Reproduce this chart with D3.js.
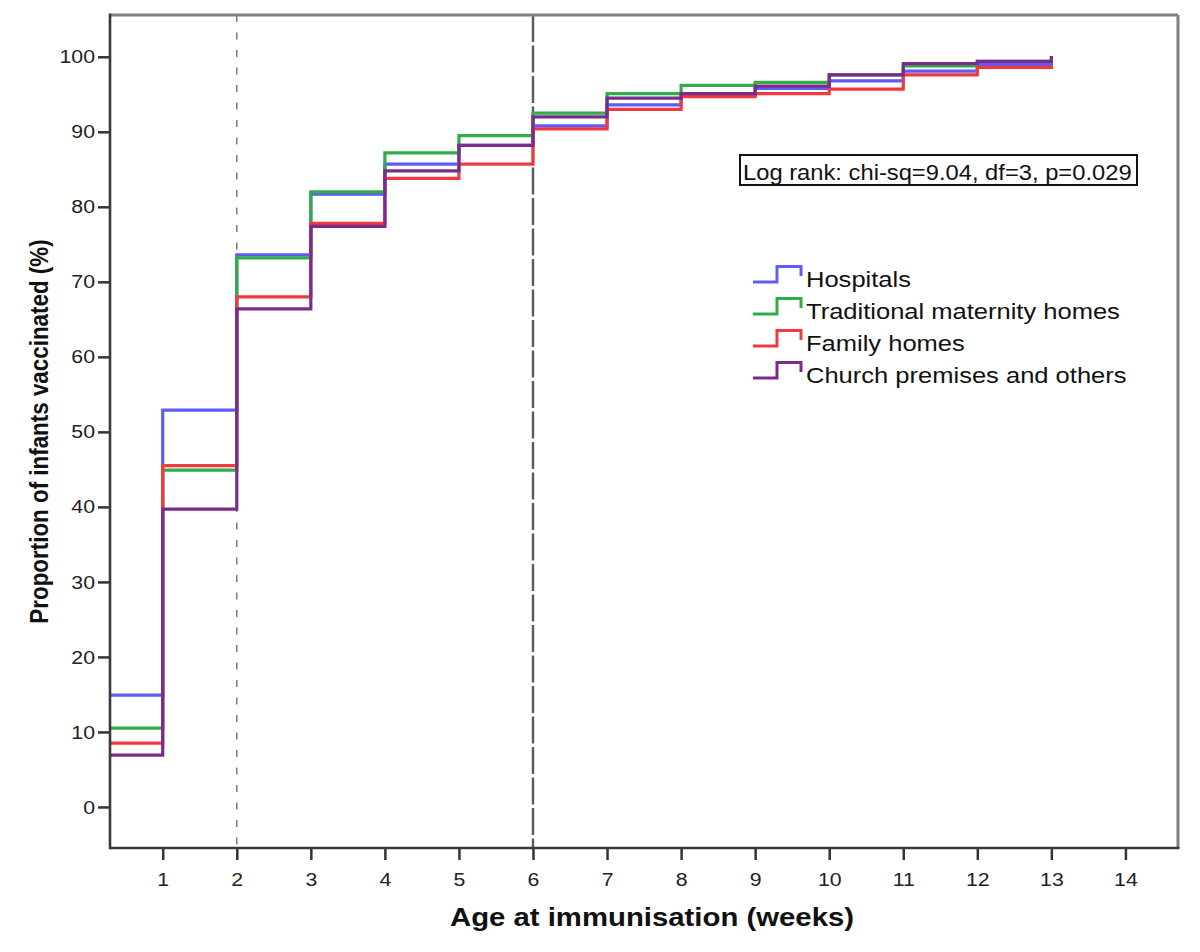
<!DOCTYPE html>
<html>
<head>
<meta charset="utf-8">
<script src="https://cdn.jsdelivr.net/npm/d3@7"></script>
<style>
  html, body { margin: 0; padding: 0; background: #ffffff; }
  svg { display: block; font-family: "Liberation Sans", Arial, sans-serif; }
</style>
</head>
<body>
<svg id="chart" width="1200" height="952"></svg>
<script>
// ---- data ----
const weeks = [0, 1, 2, 3, 4, 5, 6, 7, 8, 9, 10, 11, 12, 13];
const hospitals   = [14.9, 52.9, 73.6, 81.7, 85.7, 88.2, 90.8, 93.6, 94.9, 95.8, 96.8, 98.1, 99.0, 99.0];
const traditional = [10.5, 44.9, 73.2, 82.0, 87.2, 89.5, 92.5, 95.1, 96.2, 96.6, 97.6, 98.8, 99.4, 99.4];
const family      = [8.5, 45.5, 68.0, 77.8, 83.8, 85.7, 90.4, 93.0, 94.7, 95.1, 95.7, 97.6, 98.6, 98.6];
const church      = [6.9, 39.7, 66.4, 77.4, 84.8, 88.2, 92.0, 94.5, 95.1, 96.1, 97.6, 99.1, 99.4, 99.9];
const seriesNames = ["Hospitals", "Traditional maternity homes", "Family homes", "Church premises and others"];
const seriesColors = ["#5c5cf6", "#30ad48", "#f03a40", "#7a2c8c"];
const xTicks = [1, 2, 3, 4, 5, 6, 7, 8, 9, 10, 11, 12, 13, 14];
const yTicks = [0, 10, 20, 30, 40, 50, 60, 70, 80, 90, 100];
const refLines = [2, 6];
const annotation = "Log rank: chi-sq=9.04, df=3, p=0.029";
const xTitle = "Age at immunisation (weeks)";
const yTitle = "Proportion of infants vaccinated (%)";

const allSeries = [hospitals, traditional, family, church];

// ---- layout ----
const svg = d3.select("#chart");
const plot = { left: 110, right: 1178, top: 15, bottom: 848 };
const SX = 1.12; // horizontal stretch of text in reference

const x = d3.scaleLinear().domain([0.288, 14.71]).range([plot.left, plot.right]);
const y = d3.scaleLinear().domain([-5.47, 105.57]).range([plot.bottom, plot.top]);

svg.append("defs").append("clipPath").attr("id", "clip")
  .append("rect")
  .attr("x", plot.left).attr("y", plot.top)
  .attr("width", plot.right - plot.left).attr("height", plot.bottom - plot.top);

// reference lines
svg.append("line")
  .attr("x1", x(refLines[0])).attr("x2", x(refLines[0]))
  .attr("y1", plot.top).attr("y2", plot.bottom)
  .attr("stroke", "#808080").attr("stroke-width", 1.6)
  .attr("stroke-dasharray", "7,10.5");
svg.append("line")
  .attr("x1", x(refLines[1])).attr("x2", x(refLines[1]))
  .attr("y1", plot.top).attr("y2", plot.bottom)
  .attr("stroke", "#5a5a5a").attr("stroke-width", 2.4)
  .attr("stroke-dasharray", "27,3.5");

// curves
const line = d3.line()
  .x((d, i) => x(weeks[i]))
  .y(d => y(d))
  .curve(d3.curveStepAfter);

const curves = svg.append("g").attr("clip-path", "url(#clip)");
allSeries.forEach((s, k) => {
  curves.append("path")
    .attr("d", line(s))
    .attr("fill", "none")
    .attr("stroke", seriesColors[k])
    .attr("stroke-width", 3.2)
    .attr("stroke-linejoin", "miter")
    .attr("stroke-linecap", "square");
});

// frame
svg.append("line").attr("x1", plot.left).attr("x2", plot.right).attr("y1", plot.top).attr("y2", plot.top)
  .attr("stroke", "#808080").attr("stroke-width", 3);
svg.append("line").attr("x1", plot.right).attr("x2", plot.right).attr("y1", plot.top).attr("y2", plot.bottom)
  .attr("stroke", "#808080").attr("stroke-width", 3);

// axes
const xAxis = d3.axisBottom(x).tickValues(xTicks).tickSize(12).tickPadding(13).tickSizeOuter(0);
const gx = svg.append("g").attr("transform", `translate(0,${plot.bottom})`).call(xAxis);
gx.select(".domain").remove();
gx.selectAll(".tick line").attr("stroke", "#333").attr("stroke-width", 2.5);
gx.selectAll(".tick text")
  .attr("fill", "#222").attr("font-size", 19)
  .attr("font-family", "'Liberation Sans', Arial, sans-serif")
  .each(function() {
    const t = d3.select(this);
    const yy = +t.attr("y");
    t.attr("y", 0).attr("transform", `translate(0,${yy}) scale(${SX},1)`);
  });

const yAxis = d3.axisLeft(y).tickValues(yTicks).tickSize(12).tickPadding(3).tickSizeOuter(0);
const gy = svg.append("g").attr("transform", `translate(${plot.left},0)`).call(yAxis);
gy.select(".domain").remove();
gy.selectAll(".tick line").attr("stroke", "#333").attr("stroke-width", 2.5);
gy.selectAll(".tick text")
  .attr("fill", "#222").attr("font-size", 19)
  .attr("font-family", "'Liberation Sans', Arial, sans-serif")
  .each(function() {
    const t = d3.select(this);
    const xx = +t.attr("x");
    t.attr("x", 0).attr("transform", `translate(${xx},0) scale(${SX},1)`);
  });

// axis lines (left, bottom)
svg.append("line").attr("x1", plot.left).attr("x2", plot.left).attr("y1", plot.top - 1.5).attr("y2", plot.bottom + 1.2)
  .attr("stroke", "#3a3a3a").attr("stroke-width", 2.6);
svg.append("line").attr("x1", plot.left).attr("x2", plot.right + 1.5).attr("y1", plot.bottom).attr("y2", plot.bottom)
  .attr("stroke", "#3a3a3a").attr("stroke-width", 2.6);

// axis titles
svg.append("text")
  .attr("transform", `translate(${(plot.left + plot.right) / 2 + 8},926) scale(${SX},1)`)
  .attr("text-anchor", "middle")
  .attr("font-weight", "bold").attr("font-size", 26.2)
  .attr("fill", "#111")
  .text(xTitle);

svg.append("text")
  .attr("transform", `translate(48,${(plot.top + plot.bottom) / 2}) scale(${SX},1) rotate(-90)`)
  .attr("text-anchor", "middle")
  .attr("font-weight", "bold").attr("font-size", 22.4)
  .attr("fill", "#111")
  .text(yTitle);

// annotation box
const ann = svg.append("g");
ann.append("rect")
  .attr("x", 740).attr("y", 155).attr("width", 397).attr("height", 30)
  .attr("fill", "#fff").attr("stroke", "#111").attr("stroke-width", 2);
ann.append("text")
  .attr("transform", `translate(743,180) scale(${SX},1)`)
  .attr("font-size", 21.2).attr("fill", "#111")
  .text(annotation);

// legend
const legend = svg.append("g");
seriesNames.forEach((name, i) => {
  const by = 287 + i * 32;
  const sym = d3.path();
  sym.moveTo(753, by - 5);
  sym.lineTo(777, by - 5);
  sym.lineTo(777, by - 20.5);
  sym.lineTo(801, by - 20.5);
  sym.lineTo(801, by - 11);
  legend.append("path")
    .attr("d", sym.toString())
    .attr("fill", "none")
    .attr("stroke", seriesColors[i])
    .attr("stroke-width", 3);
  legend.append("text")
    .attr("transform", `translate(806,${by}) scale(${SX},1)`)
    .attr("font-size", 22.8).attr("fill", "#111")
    .text(name);
});
</script>
</body>
</html>
